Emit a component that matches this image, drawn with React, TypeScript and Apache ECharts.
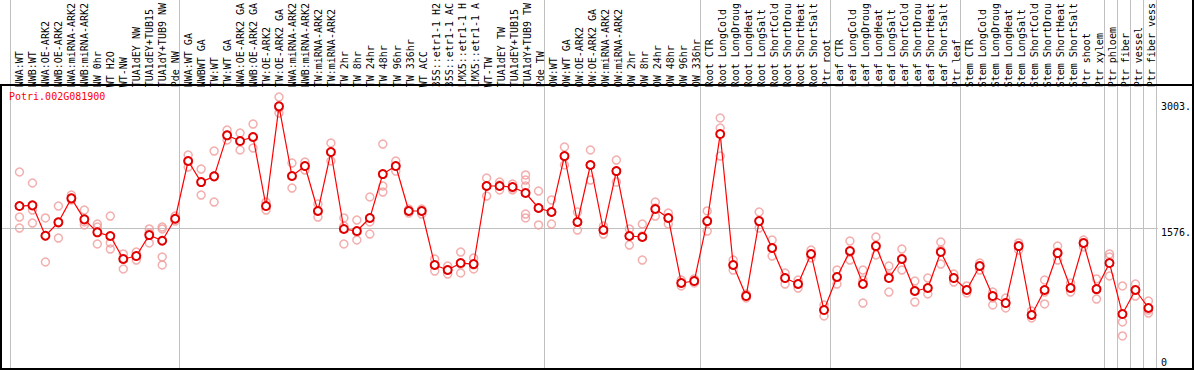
import React, { useEffect, useRef } from "react";
import * as echarts from "echarts";

const geneId = "Potri.002G081900";

const categories = [
  "NWA:WT", "NWB:WT", "NWA:OE-ARK2", "NWB:OE-ARK2", "NWA:miRNA-ARK2", "NWB:miRNA-ARK2", "NW 0hr", "WT H2O", "WT-NW", "TUA1dEY NW", "TUA1dEY+TUB15", "TUA1dY+TUB9 NW", "Pde NW",
  "NWA:WT GA", "NWBWT GA", "TW:WT", "TW:WT GA", "NWA:OE-ARK2 GA", "NWB:OE-ARK2 GA", "TW:OE-ARK2", "TW:OE-ARK2 GA", "NWA:miRNA-ARK2", "NWB:miRNA-ARK2", "TW:miRNA-ARK2", "TW:miRNA-ARK2", "TW 2hr", "TW 8hr", "TW 24hr", "TW 48hr", "TW 96hr", "TW 336hr", "WT ACC", "35S::etr1-1 H2", "35S::etr1-1 AC", "LMX5::etr1-1 H", "LMX5::etr1-1 A", "WT-TW", "TUA1dEY TW", "TUA1dEY+TUB15", "TUA1dY+TUB9 TW", "Pde TW",
  "OW:WT", "OW:WT GA", "OW:OE-ARK2", "OW:OE-ARK2 GA", "OW:miRNA-ARK2", "OW:miRNA-ARK2", "OW 2hr", "OW 8hr", "OW 24hr", "OW 48hr", "OW 96hr", "OW 336hr",
  "Root CTR", "Root LongCold", "Root LongDroug", "Root LongHeat", "Root LongSalt", "Root ShortCold", "Root ShortDrou", "Root ShortHeat", "Root ShortSalt", "Ptr root",
  "Leaf CTR", "Leaf LongCold", "Leaf LongDroug", "Leaf LongHeat", "Leaf LongSalt", "Leaf ShortCold", "Leaf ShortDrou", "Leaf ShortHeat", "Leaf ShortSalt", "Ptr leaf",
  "Stem CTR", "Stem LongCold", "Stem LongDroug", "Stem LongHeat", "Stem LongSalt", "Stem ShortCold", "Stem ShortDrou", "Stem ShortHeat", "Stem ShortSalt", "Ptr shoot", "Ptr xylem",
  "Ptr phloem", "Ptr fiber", "Ptr vessel", "Ptr fiber vess",
];

// first category index of each group (a separator line is drawn before it)
const groupStarts = [0, 13, 41, 53, 63, 73, 84, 85, 86, 87];

const means = [
  1834, 1842, 1486, 1643, 1924, 1678, 1526, 1483, 1213, 1248, 1494, 1427, 1685,
  2362, 2115, 2182, 2663, 2596, 2643, 1834, 3003, 2186, 2303, 1776, 2467, 1565, 1541, 1694, 2209, 2303, 1776, 1776, 1143, 1084, 1166, 1154, 2069, 2069, 2057, 1987, 1811,
  1764, 2420, 1647, 2315, 1553, 2244, 1483, 1471, 1799, 1694, 932, 955,
  1658, 2678, 1143, 779, 1658, 1342, 990, 920, 1272, 615,
  1002, 1307, 920, 1365, 990, 1213, 838, 873, 1295, 990,
  850, 1131, 779, 697, 1365, 557, 850, 1283, 873, 1401, 861,
  1166, 568, 850, 639,
];

const replicates = [
  [2233, 1705, 1576], [2104, 1787, 1635], [1694, 1483, 1178], [1834, 1647, 1459], [1963, 1928, 1905],
  [1787, 1647, 1612], [1623, 1588, 1389], [1717, 1401, 1330], [1272, 1213, 1096], [1295, 1248, 1201],
  [1565, 1518, 1401], [1588, 1565, 1236, 1143], [1717, 1682, 1658],
  [2432, 2362, 2291], [2268, 2115, 1963], [2479, 2186, 1881], [2725, 2666, 2608], [2690, 2596, 2491],
  [2795, 2643, 2514], [1881, 1834, 1787], [3112, 2983, 2924], [2338, 2186, 2045], [2350, 2303, 2256],
  [1858, 1776, 1705], [2573, 2467, 2362], [1694, 1600, 1389], [1670, 1529, 1436], [1940, 1647, 1506],
  [2561, 2069, 1998], [2362, 2303, 2244], [1799, 1776, 1752], [1799, 1776, 1740], [1213, 1143, 1072],
  [1131, 1084, 1037], [1295, 1154, 1049], [1225, 1143, 1096], [2162, 2069, 1951], [2115, 2080, 2022],
  [2092, 2045, 2022], [2198, 2139, 2069, 1740, 1694], [2010, 1811, 1612],
  [1905, 1764, 1623], [2526, 2420, 2315], [1764, 1647, 1553], [2491, 2315, 2139], [1600, 1553, 1506],
  [2373, 2244, 2115], [1565, 1483, 1377], [1623, 1483, 1201], [1881, 1811, 1717], [1752, 1694, 1623],
  [967, 932, 897], [979, 955, 932],
  [1776, 1658, 1541], [2866, 2748, 2420], [1201, 1143, 1084], [803, 779, 756], [1764, 1658, 1576],
  [1436, 1342, 1248], [1049, 990, 920], [967, 920, 873], [1318, 1272, 1225], [674, 615, 545],
  [1084, 1002, 920], [1424, 1295, 1201], [1084, 967, 697], [1471, 1365, 1260], [1131, 1014, 826],
  [1330, 1213, 1084], [955, 838, 709], [990, 873, 803], [1412, 1318, 1154], [1037, 990, 943],
  [897, 850, 815], [1166, 1131, 1084], [826, 756, 674], [756, 697, 639], [1401, 1365, 1318],
  [604, 557, 522], [967, 826, 686], [1365, 1295, 1201], [932, 873, 826], [1436, 1401, 1354], [979, 850, 744],
  [1272, 1236, 1014], [897, 475, 311], [920, 850, 779], [721, 615, 580],
];

const yTickLabels = [0, 1576, 3003];
const midLine = 1576;

export default function App() {
  const ref = useRef<HTMLDivElement>(null);

  useEffect(() => {
    if (!ref.current) return;
    const chart = echarts.init(ref.current, null, { renderer: "svg" });
    const mono = "DejaVu Sans Mono";
    const meanData = means.map((v, i) => [i, v]);
    const repData: number[][] = [];
    replicates.forEach((arr, i) => arr.forEach((v) => repData.push([i, v])));

    chart.setOption({
      animation: false,
      backgroundColor: "#ffffff",
      title: {
        text: geneId,
        left: 9,
        top: 91,
        padding: 0,
        textStyle: { color: "#ff0000", fontFamily: mono, fontSize: 10, fontWeight: "normal" },
      },
      grid: [
        { left: 10.5, right: 38, top: 0, bottom: 1 },
        { left: 1, right: 34, top: 93.6, bottom: 7.5 },
        { left: 13, right: 35.5, top: 0, bottom: 1 },
      ],
      xAxis: [
        {
          gridIndex: 0,
          type: "category",
          data: categories,
          boundaryGap: true,
          axisLine: { show: false },
          axisTick: { show: false },
          axisLabel: { show: false },
          splitLine: {
            show: true,
            interval: (idx: number) => groupStarts.indexOf(idx) >= 0,
            lineStyle: { color: "#c0c0c0", width: 1 },
          },
        },
        {
          gridIndex: 1,
          type: "value",
          min: -18.5 / 13,
          max: -18.5 / 13 + 1159 / 13,
          show: false,
        },
        {
          gridIndex: 2,
          type: "category",
          data: categories,
          position: "top",
          offset: -85,
          boundaryGap: true,
          axisLine: { show: false },
          axisTick: { show: false },
          splitLine: { show: false },
          axisLabel: {
            interval: 0,
            rotate: 90,
            margin: 2,
            fontFamily: mono,
            fontSize: 10,
            color: "#000",
          },
        },
      ],
      yAxis: [
        { gridIndex: 0, type: "value", show: false },
        {
          gridIndex: 1,
          type: "value",
          min: 0,
          max: midLine * 2,
          interval: midLine,
          position: "right",
          axisLine: { show: false },
          axisTick: { show: false },
          splitLine: {
            show: true,
            showMinLine: false,
            showMaxLine: false,
            lineStyle: { color: "#c0c0c0", width: 1 },
          },
          axisLabel: {
            customValues: yTickLabels,
            margin: 3,
            fontFamily: mono,
            fontSize: 10,
            color: "#000",
            formatter: (v: number) => (v === 0 ? "0" : v === midLine ? "{m|" + v + ".}" : v + "."),
            rich: { m: { padding: [9, 0, 0, 0], fontFamily: mono, fontSize: 10, color: "#000" } },
          },
        },
        { gridIndex: 2, type: "value", show: false },
      ],
      series: [
        {
          type: "scatter",
          xAxisIndex: 1,
          yAxisIndex: 1,
          data: repData,
          symbol: "circle",
          symbolSize: 8,
          clip: false,
          silent: true,
          itemStyle: { color: "rgba(0,0,0,0)", borderColor: "#f09a9a", borderWidth: 1.5 },
          z: 2,
        },
        {
          type: "line",
          xAxisIndex: 1,
          yAxisIndex: 1,
          data: meanData,
          symbol: "emptyCircle",
          symbolSize: 8,
          clip: false,
          silent: true,
          lineStyle: { color: "#ff0000", width: 1.2 },
          itemStyle: { color: "#e00000", borderWidth: 1.8 },
          z: 3,
        },
      ],
      graphic: [
        {
          type: "rect",
          shape: { x: 1, y: 85, width: 1192, height: 284 },
          style: { fill: "none", stroke: "#000", lineWidth: 2 },
          silent: true,
          z: 100,
        },
        {
          type: "line",
          shape: { x1: 1193, y1: 0, x2: 1193, y2: 85 },
          style: { stroke: "#000", lineWidth: 2 },
          silent: true,
          z: 100,
        },
      ],
    });
    return () => chart.dispose();
  }, []);

  return (
    <div
      ref={ref}
      style={{ position: "absolute", left: 0, top: 0, width: 1194, height: 370, background: "#fff" }}
    />
  );
}
